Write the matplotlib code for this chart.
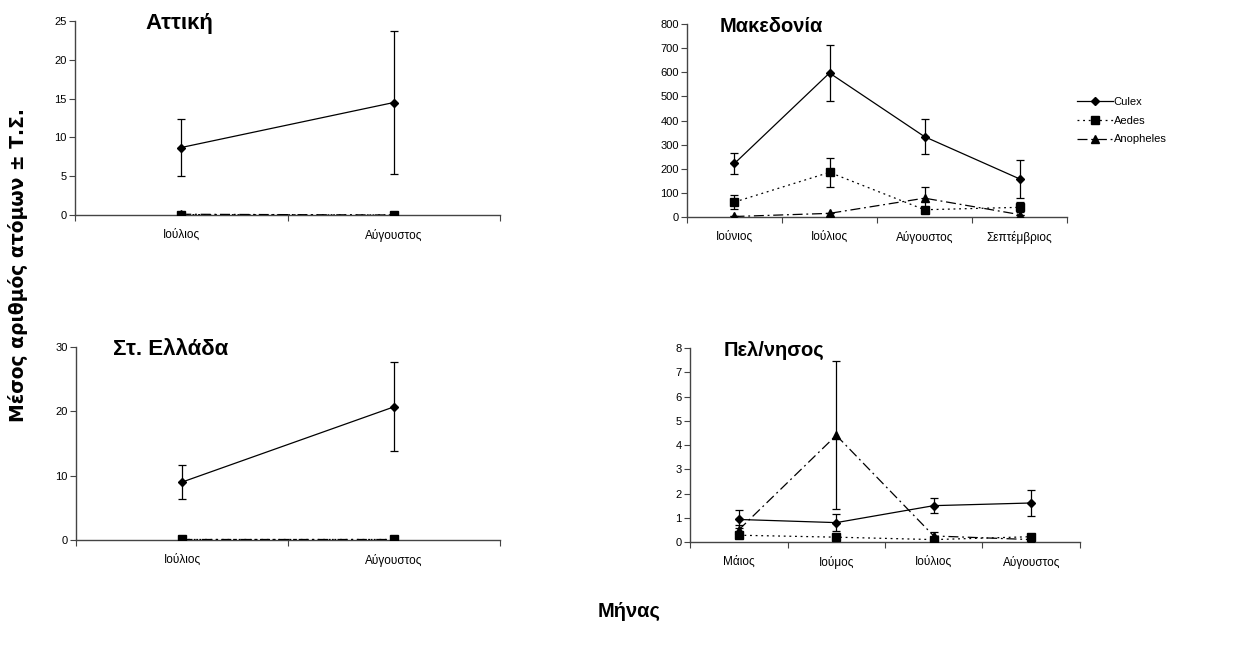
import matplotlib
matplotlib.use("Agg")
import matplotlib.pyplot as plt
from matplotlib.lines import Line2D

plt.rcParams['font.family'] = ['Liberation Sans', 'DejaVu Sans']

# Αττική
att_months = ["Ιούλιος", "Αύγουστος"]
att_culex = [8.7, 14.5]
att_culex_err = [3.7, 9.2]
att_aedes = [0.05, 0.0]
att_anoph = [0.1, 0.0]

# Μακεδονία
mak_months = ["Ιούνιος", "Ιούλιος", "Αύγουστος", "Σεπτέμβριος"]
mak_culex = [222, 597, 333, 158]
mak_culex_err = [45, 115, 72, 78]
mak_aedes = [62, 185, 30, 40]
mak_aedes_err = [29, 60, 12, 21]
mak_anoph = [2, 15, 78, 10]
mak_anoph_err = [0, 0, 45, 0]

# Στ. Ελλάδα
ste_months = ["Ιούλιος", "Αύγουστος"]
ste_culex = [9.0, 20.7]
ste_culex_err = [2.7, 6.9]
ste_aedes = [0.1, 0.1]
ste_anoph = [0.1, 0.1]

# Πελ/νησος
pel_months = ["Μάιος", "Ιούμος", "Ιούλιος", "Αύγουστος"]
pel_culex = [0.93, 0.80, 1.50, 1.61]
pel_culex_err = [0.37, 0.36, 0.30, 0.52]
pel_aedes = [0.28, 0.20, 0.10, 0.22]
pel_aedes_err = [0.1, 0.05, 0.05, 0.05]
pel_anoph = [0.50, 4.40, 0.25, 0.10]
pel_anoph_err = [0.2, 3.05, 0.18, 0.05]

DASHDOT = (0, (8, 3, 1.5, 3))
DOTTED = (0, (1.5, 3))


def panel(ax, months, culex, culex_err, aedes, aedes_err, anoph, anoph_err,
          ymax, ystep, title, tx, tsize):
    x = [i + 0.5 for i in range(len(months))]
    ek = dict(ecolor='black', elinewidth=0.9, capsize=3, capthick=0.9)
    ax.errorbar(x, anoph, yerr=anoph_err, color='black', ls=DASHDOT,
                lw=0.9, marker='^', ms=6, zorder=3, **ek)
    ax.errorbar(x, aedes, yerr=aedes_err, color='black', ls=DOTTED,
                lw=0.9, marker='s', ms=5.5, zorder=3, **ek)
    ax.errorbar(x, culex, yerr=culex_err, color='black', ls='-',
                lw=0.9, marker='D', ms=4.5, zorder=4, **ek)
    ax.set_xlim(0, len(months))
    ax.set_ylim(0, ymax)
    ax.set_yticks(range(0, ymax + 1, ystep))
    ax.set_xticks(range(len(months) + 1))
    ax.set_xticklabels([])
    ax.set_xticks(x, minor=True)
    ax.set_xticklabels(months, minor=True)
    ax.tick_params(axis='x', which='minor', length=0, pad=10, labelsize=8.5)
    ax.tick_params(axis='x', which='major', length=4, color='#444444')
    ax.tick_params(axis='y', labelsize=8, length=4, color='#444444', pad=2)
    ax.spines['top'].set_visible(False)
    ax.spines['right'].set_visible(False)
    for s in ('left', 'bottom'):
        ax.spines[s].set_color('#444444')
        ax.spines[s].set_linewidth(1.0)
    ax.text(tx, 0.985, title, transform=ax.transAxes, fontsize=tsize,
            fontweight='bold', va='center', ha='left')


fig = plt.figure(figsize=(12.58, 6.51), dpi=100)
ax1 = fig.add_axes([0.0596, 0.6697, 0.3379, 0.2980])
ax2 = fig.add_axes([0.5461, 0.6667, 0.3021, 0.2964])
ax3 = fig.add_axes([0.0604, 0.1705, 0.3371, 0.2965])
ax4 = fig.add_axes([0.5485, 0.1674, 0.3100, 0.2980])

panel(ax1, att_months, att_culex, att_culex_err, att_aedes, None, att_anoph, None,
      25, 5, "Αττική", 0.165, 16)
panel(ax2, mak_months, mak_culex, mak_culex_err, mak_aedes, mak_aedes_err,
      mak_anoph, mak_anoph_err, 800, 100, "Μακεδονία", 0.087, 14.5)
panel(ax3, ste_months, ste_culex, ste_culex_err, ste_aedes, None, ste_anoph, None,
      30, 10, "Στ. Ελλάδα", 0.087, 16)
panel(ax4, pel_months, pel_culex, pel_culex_err, pel_aedes, pel_aedes_err,
      pel_anoph, pel_anoph_err, 8, 1, "Πελ/νησος", 0.085, 14.5)

handles = [
    Line2D([], [], color='black', ls='-', lw=0.9, marker='D', ms=4.5),
    Line2D([], [], color='black', ls=DOTTED, lw=0.9, marker='s', ms=5.5),
    Line2D([], [], color='black', ls=DASHDOT, lw=0.9, marker='^', ms=6),
]
ax2.legend(handles, ["Culex", "Aedes", "Anopheles"], loc='center left',
           bbox_to_anchor=(1.0, 0.5), frameon=False, fontsize=8,
           handlelength=3.2, handletextpad=0.1, labelspacing=0.8)

fig.text(0.014, 0.593, "Μέσος αριθμός ατόμων ± Τ.Σ.", rotation=90,
         fontsize=13.5, fontweight='bold', ha='center', va='center',
         family=['DejaVu Sans'])
fig.text(0.5, 0.06, "Μήνας", fontsize=14.5, fontweight='bold',
         ha='center', va='center')

fig.savefig("out.png", dpi=100)
